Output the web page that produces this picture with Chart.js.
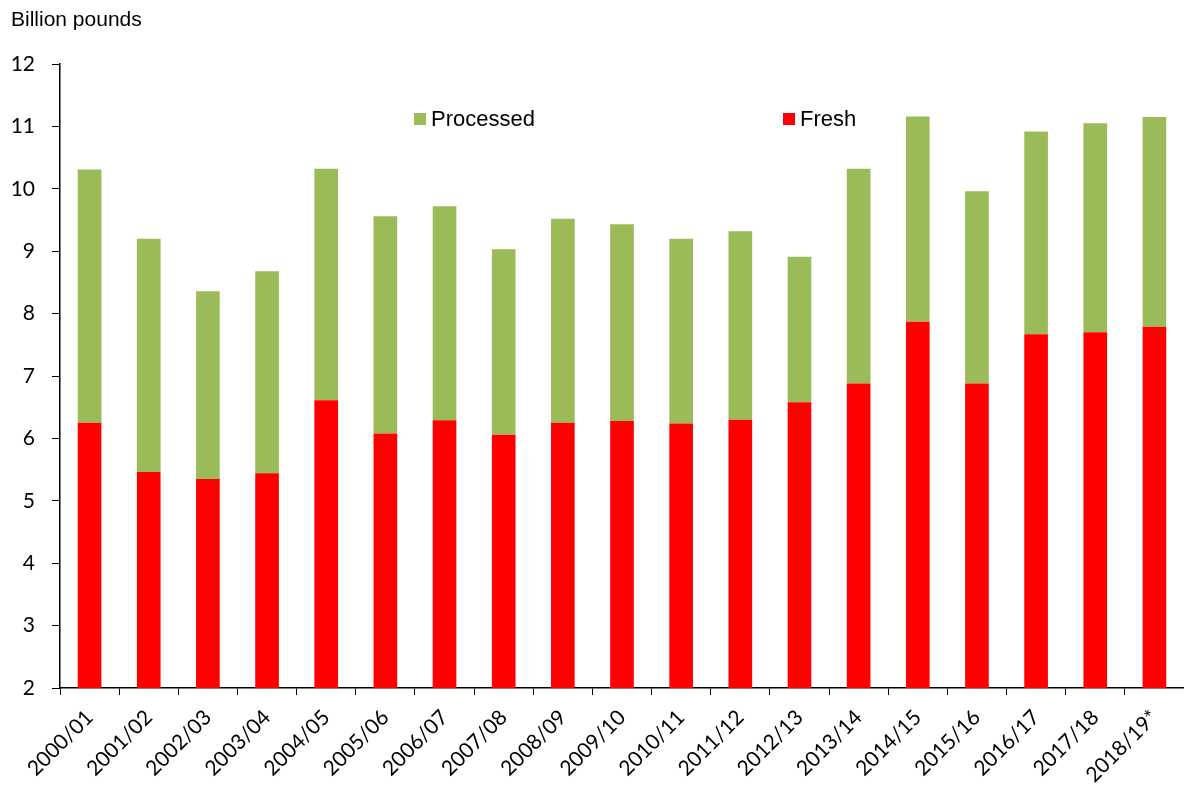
<!DOCTYPE html>
<html>
<head>
<meta charset="utf-8">
<script src="https://cdn.jsdelivr.net/npm/chart.js@4"></script>
<style>
  body { margin: 0; background: #fff; }
  #wrap { width: 1184px; height: 789px; position: relative; }
</style>
</head>
<body>
<div id="wrap"><canvas id="chart"></canvas></div>
<script>
const seasons = ['2000/01', '2001/02', '2002/03', '2003/04', '2004/05', '2005/06', '2006/07',
  '2007/08', '2008/09', '2009/10', '2010/11', '2011/12', '2012/13', '2013/14', '2014/15',
  '2015/16', '2016/17', '2017/18', '2018/19*'];
const fresh = [6.25, 5.46, 5.35, 5.44, 6.61, 6.08, 6.29, 6.06, 6.25, 6.28,
  6.24, 6.30, 6.58, 6.88, 7.87, 6.88, 7.67, 7.70, 7.79];
const processed = [4.06, 3.74, 3.01, 3.24, 3.71, 3.48, 3.43, 2.97, 3.27, 3.15,
  2.96, 3.02, 2.33, 3.44, 3.29, 3.08, 3.25, 3.35, 3.36];
const yTicks = [2, 3, 4, 5, 6, 7, 8, 9, 10, 11, 12];

const tickFont = { family: 'Lato, "Liberation Sans", sans-serif', size: 21 };

// title and legend drawn on the canvas
const extras = {
  id: 'extras',
  afterDraw(chart) {
    const ctx = chart.ctx;
    ctx.save();
    ctx.fillStyle = '#000';
    ctx.font = '21px "Liberation Sans", Arial, sans-serif';
    ctx.textBaseline = 'alphabetic';
    ctx.fillText('Billion pounds', 11, 26);

    ctx.font = '22px "Liberation Sans", Arial, sans-serif';
    ctx.fillStyle = '#9BBB59';
    ctx.fillRect(414, 113, 12, 12);
    ctx.fillStyle = '#000';
    ctx.fillText('Processed', 431, 126);

    ctx.fillStyle = '#FF0000';
    ctx.fillRect(783, 113, 12, 12);
    ctx.fillStyle = '#000';
    ctx.fillText('Fresh', 800, 126);
    ctx.restore();
  }
};

new Chart(document.getElementById('chart'), {
  type: 'bar',
  data: {
    labels: seasons,
    datasets: [
      { label: 'Fresh', data: fresh, backgroundColor: '#FF0000', borderWidth: 0 },
      { label: 'Processed', data: processed, backgroundColor: '#9BBB59', borderWidth: 0 }
    ]
  },
  options: {
    responsive: true,
    maintainAspectRatio: false,
    animation: false,
    layout: { padding: { top: 64, left: 4, right: 0, bottom: 0 } },
    datasets: { bar: { categoryPercentage: 1, barPercentage: 0.4 } },
    plugins: {
      legend: { display: false },
      tooltip: { enabled: false }
    },
    scales: {
      x: {
        stacked: true,
        afterFit(axis) { axis.height = 101; },
        grid: { display: true, drawOnChartArea: false, color: '#000', tickLength: 7, offset: true },
        border: { color: '#000', width: 1.5 },
        ticks: { color: '#000', font: tickFont, maxRotation: 45, minRotation: 45, autoSkip: false, padding: 10 }
      },
      y: {
        stacked: true,
        min: 2,
        max: 12,
        afterFit(axis) { axis.width = 56; },
        afterBuildTicks(axis) { axis.ticks = yTicks.map(v => ({ value: v })); },
        grid: { display: true, drawOnChartArea: false, color: '#000', tickLength: 8 },
        border: { color: '#000', width: 1.5 },
        ticks: { color: '#000', font: tickFont, padding: 17 }
      }
    }
  },
  plugins: [extras]
});
</script>
</body>
</html>
